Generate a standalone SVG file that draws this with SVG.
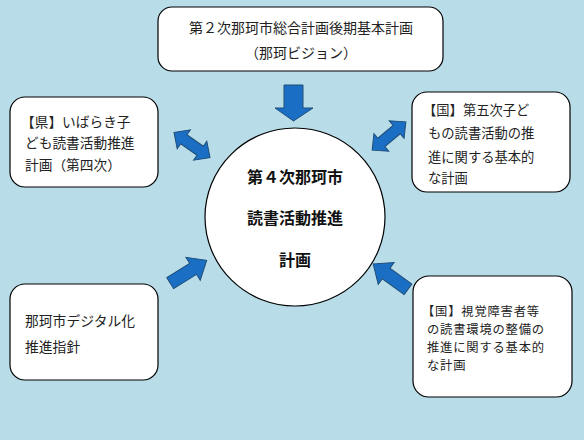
<svg xmlns="http://www.w3.org/2000/svg" width="584" height="440" viewBox="0 0 584 440">
<defs>
<style>
.box{fill:#fff;stroke:#000;stroke-width:1.2}
.t{font-family:"Noto Sans CJK JP","Noto Sans",sans-serif;fill:#222}
.c{font-family:"Noto Sans CJK JP","Noto Sans",sans-serif;font-weight:bold;font-size:16px;fill:#111;text-anchor:middle}
.arr{fill:#1a6fc4;stroke:#1f4e79;stroke-width:1}
.sm{font-size:12.3px;letter-spacing:0.8px}
</style>
<polygon id="single" points="-21,-6.5 6,-6.5 6,-13.5 22,0 6,13.5 6,6.5 -21,6.5"/>
<polygon id="double" points="-22,0 -10,-11.5 -10,-5.5 10,-5.5 10,-11.5 22,0 10,11.5 10,5.5 -10,5.5 -10,11.5"/>
</defs>
<rect width="584" height="440" fill="#b8dde9"/>

<g id="connectors">
<polygon class="arr" points="284,85 303,85 303,108 313,108 293.5,121 275,108 284,108"/>
<use href="#double" class="arr" transform="translate(192,145) rotate(35)"/>
<use href="#double" class="arr" transform="translate(389,136) rotate(-40)"/>
<use href="#single" class="arr" transform="translate(188,272) rotate(-32)"/>
<use href="#single" class="arr" transform="translate(391,277) rotate(216)"/>
</g>

<g id="top">
<rect class="box" x="158" y="7" width="285" height="64" rx="14"/>
<text class="t" font-size="14" x="301" y="33" text-anchor="middle">第２次那珂市総合計画後期基本計画</text>
<text class="t" font-size="14" x="301" y="58" text-anchor="middle">（那珂ビジョン）</text>
</g>

<g id="left">
<rect class="box" x="10" y="97" width="148" height="90" rx="15"/>
<text class="t" font-size="13.7" x="21" y="127">【県】いばらき子</text>
<text class="t" font-size="13.7" x="25" y="148">ども読書活動推進</text>
<text class="t" font-size="13.7" x="25" y="170">計画（第四次）</text>
</g>

<g id="right-top">
<rect class="box" x="412" y="92" width="158" height="100" rx="15"/>
<text class="t" font-size="13.3" x="423" y="115">【国】第五次子ど</text>
<text class="t" font-size="13.3" x="428" y="138">もの読書活動の推</text>
<text class="t" font-size="13.3" x="428" y="162">進に関する基本的</text>
<text class="t" font-size="13.3" x="428" y="183">な計画</text>
</g>

<g id="center">
<ellipse class="box" cx="295" cy="217" rx="90" ry="89"/>
<text class="c" x="295" y="183">第４次那珂市</text>
<text class="c" x="295" y="224">読書活動推進</text>
<text class="c" x="295" y="266">計画</text>
</g>

<g id="left-bottom">
<rect class="box" x="10" y="284" width="148" height="96" rx="15"/>
<text class="t" font-size="13.8" x="25" y="326">那珂市デジタル化</text>
<text class="t" font-size="13.8" x="25" y="352">推進指針</text>
</g>

<g id="right-bottom">
<rect class="box" x="413" y="276" width="159" height="121" rx="16"/>
<text class="t sm" x="422" y="316">【国】視覚障害者等</text>
<text class="t sm" x="427" y="334">の読書環境の整備の</text>
<text class="t sm" x="427" y="352">推進に関する基本的</text>
<text class="t sm" x="427" y="370">な計画</text>
</g>
</svg>
